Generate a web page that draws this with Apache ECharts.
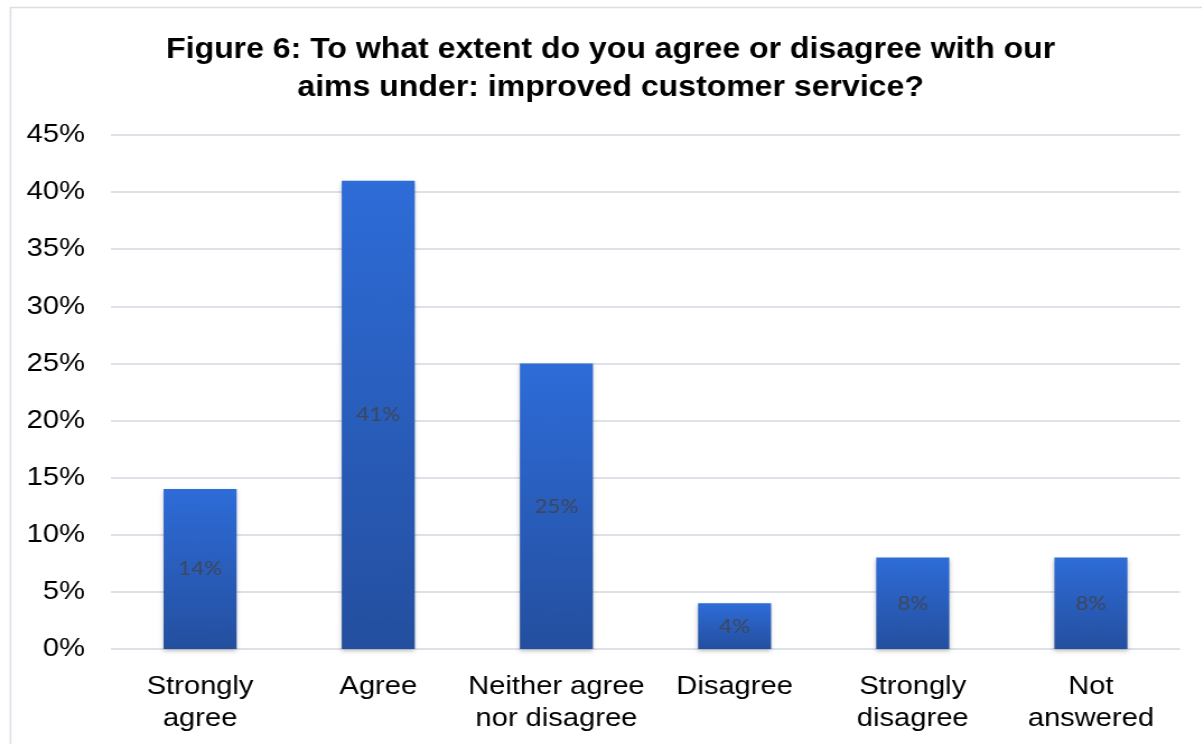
<!DOCTYPE html>
<html>
<head>
<meta charset="utf-8">
<script src="https://cdn.jsdelivr.net/npm/echarts@6/dist/echarts.min.js"></script>
<style>
  html, body { margin: 0; padding: 0; background: #ffffff; overflow: hidden; }
  /* The chart is laid out slightly narrower and widened with a horizontal
     scale so that all lettering gets the same wide, stretched look. */
  #wrap { width: 1202px; height: 744px; overflow: hidden; }
  #chart { height: 744px; transform-origin: 0 0; }
</style>
</head>
<body>
<div id="wrap"><div id="chart"></div></div>
<script>
// Survey responses: agreement with the "improved customer service" aims
const categories = ['Strongly\nagree', 'Agree', 'Neither agree\nnor disagree', 'Disagree', 'Strongly\ndisagree', 'Not\nanswered'];
const percentages = [14, 41, 25, 4, 8, 8];
const titleText = 'Figure 6: To what extent do you agree or disagree with our\naims under: improved customer service?';

const STRETCH = 1.12;            // horizontal widening factor
const W = 1202 / STRETCH;        // unscaled layout width
const px = v => v / STRETCH;     // screen x -> layout x

const el = document.getElementById('chart');
el.style.width = W + 'px';
el.style.transform = 'scaleX(' + STRETCH + ')';

const chart = echarts.init(el, null, { width: W, height: 744 });

chart.setOption({
  animation: false,
  backgroundColor: '#ffffff',
  graphic: [{
    type: 'rect',
    shape: { x: px(10.5), y: 7.5, width: W, height: 745 },
    style: { fill: 'none', stroke: '#d9dee6', lineWidth: 1.5 },
    silent: true
  }],
  title: {
    text: titleText,
    left: px(605),
    top: 26,
    textAlign: 'center',
    textStyle: {
      fontFamily: 'Liberation Sans, Arial, sans-serif',
      fontWeight: 'bold',
      fontSize: 28.6,
      lineHeight: 38,
      color: '#000000'
    }
  },
  grid: { left: px(111), right: px(22), top: 135, bottom: 95, containLabel: false },
  xAxis: {
    type: 'category',
    data: categories,
    axisLine: { show: false },
    axisTick: { show: false },
    axisLabel: {
      margin: 22,
      fontFamily: 'Liberation Sans, Arial, sans-serif',
      fontSize: 26,
      lineHeight: 32,
      color: '#000000',
      interval: 0
    }
  },
  yAxis: {
    type: 'value',
    min: 0,
    max: 45,
    interval: 5,
    axisLine: { show: false },
    axisTick: { show: false },
    splitLine: { lineStyle: { color: '#dde1e8', width: 2 } },
    axisLabel: {
      margin: px(26),
      formatter: '{value}%',
      fontFamily: 'Liberation Sans, Arial, sans-serif',
      fontSize: 26,
      color: '#000000'
    }
  },
  series: [{
    type: 'bar',
    data: percentages,
    barWidth: '41%',
    itemStyle: {
      color: new echarts.graphic.LinearGradient(0, 0, 0, 1, [
        { offset: 0, color: '#2e6cd8' },
        { offset: 1, color: '#244f9f' }
      ]),
      shadowColor: 'rgba(0,0,0,0.25)',
      shadowBlur: 4,
      shadowOffsetY: 2
    },
    label: {
      show: true,
      position: 'inside',
      formatter: '{c}%',
      fontFamily: 'Lato, Open Sans, sans-serif',
      fontSize: 20,
      color: 'rgba(64,68,78,0.88)'
    }
  }]
});
</script>
</body>
</html>
